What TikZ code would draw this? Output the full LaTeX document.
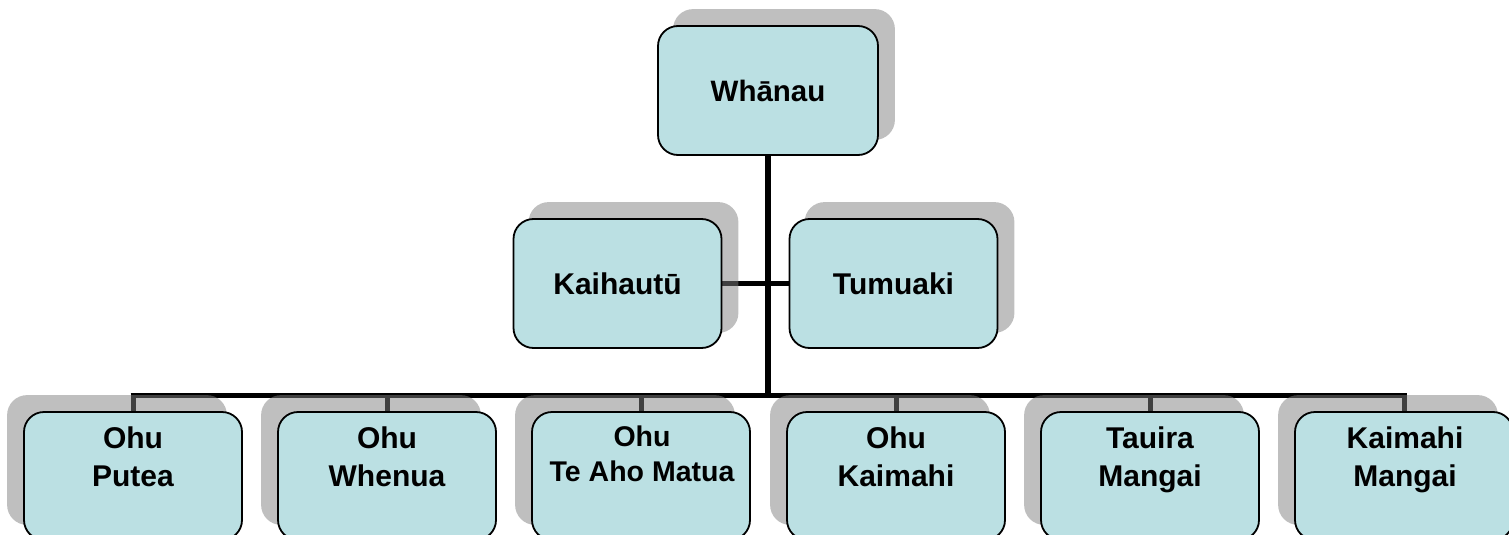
\documentclass[tikz,border=0pt]{standalone}
\usepackage{fontspec}
\setmainfont{Liberation Sans}
\definecolor{boxblue}{RGB}{187,224,227}
\pgfdeclarelayer{lines}
\pgfdeclarelayer{shadowlayer}
\pgfsetlayers{lines,shadowlayer,main}
\begin{document}
\begin{tikzpicture}[x=1pt,y=-1pt,
  box/.style={draw=black, line width=1.8pt, rounded corners=20pt, fill=boxblue, inner sep=0pt},
  topbox/.style={box, minimum width=208pt, minimum height=129pt, font=\fontsize{30}{36}\selectfont\bfseries},
  botbox/.style={box, minimum width=218pt, minimum height=128pt},
  lbl/.style={align=center, inner sep=0pt, anchor=north, font=\fontsize{30}{38}\selectfont\bfseries},
  lblsmall/.style={align=center, inner sep=0pt, anchor=north, font=\fontsize{28.5}{35}\selectfont\bfseries},
  conn/.style={line width=5pt, black},
  shade/.style={fill=black!50, opacity=0.5, rounded corners=20pt}]
\useasboundingbox (0,0) rectangle (1509,535);
\clip (0,0) rectangle (1509,535);
% boxes
\node[topbox, minimum width=220pt, font=\fontsize{29.5}{35}\selectfont\bfseries] (w) at (768,90.5) {Whānau};
\node[topbox] (k) at (617.5,283.5) {Kaihautū};
\node[topbox] (t) at (893.5,283.5) {Tumuaki};
\node[botbox] (b1) at (133,476) {};
\node[botbox] (b2) at (387,476) {};
\node[botbox] (b3) at (641,476) {};
\node[botbox] (b4) at (896,476) {};
\node[botbox] (b5) at (1150,476) {};
\node[botbox] (b6) at (1404,476) {};
\node[lbl] (l1) at (133,421.7) {\strut Ohu\\\strut Putea};
\node[lbl] (l2) at (387,421.7) {\strut Ohu\\\strut Whenua};
\node[lblsmall] (l3) at (642,421.5) {\strut Ohu\\\strut Te Aho Matua};
\node[lbl] (l4) at (896,421.7) {\strut Ohu\\\strut Kaimahi};
\node[lbl] (l5) at (1150,421.7) {\strut Tauira\\\strut Mangai};
\node[lbl] (l6) at (1405,421.7) {\strut Kaimahi\\\strut Mangai};
% shadows
\begin{pgfonlayer}{shadowlayer}
\foreach \n in {w,k,t}{
  \fill[shade] ([shift={(16,-16)}]\n.south west) rectangle ([shift={(16,-16)}]\n.north east);
}
\foreach \n in {b1,b2,b3,b4,b5,b6}{
  \fill[shade] ([shift={(-16,-16)}]\n.south west) rectangle ([shift={(-16,-16)}]\n.north east);
}
\end{pgfonlayer}
% connectors
\begin{pgfonlayer}{lines}
\coordinate (bar) at (768,395);
\coordinate (barL) at (b1.north |- bar);
\coordinate (barR) at (b6.north |- bar);
\draw[conn, line width=6pt] (w.south) -- (bar);
\draw[conn] ([xshift=-2.5pt]barL) -- ([xshift=2.5pt]barR);
\draw[conn] (k.east) -- (t.west);
\foreach \n in {b1,b2,b3,b4,b5,b6}{
  \draw[conn] (\n.north |- bar) -- (\n.north);
}
\end{pgfonlayer}
\end{tikzpicture}
\end{document}
